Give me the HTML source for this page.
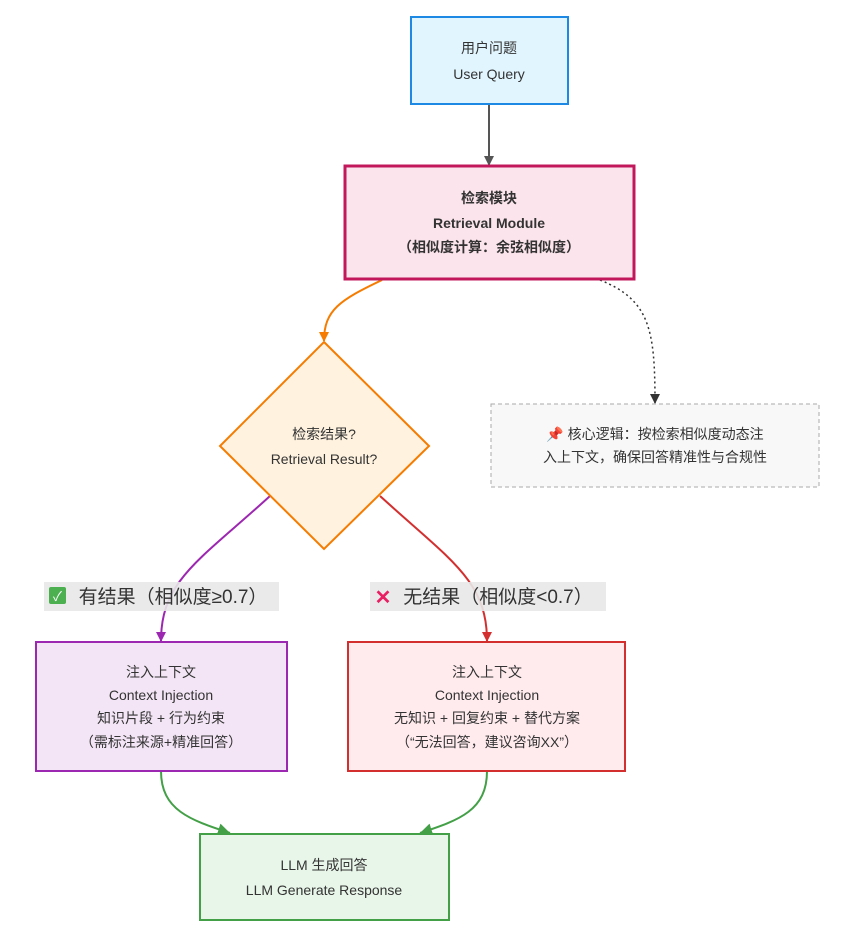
<!DOCTYPE html>
<html><head><meta charset="utf-8"><style>
body{margin:0;background:#fff}
svg text{font-family:"Liberation Sans","Noto Sans CJK SC",sans-serif;fill:#333;text-anchor:middle}
</style></head><body>
<svg width="849" height="932" viewBox="0 0 849 932" xmlns="http://www.w3.org/2000/svg">
<defs>
<marker id="ag" markerWidth="10" markerHeight="10" refX="5" refY="9" markerUnits="userSpaceOnUse" viewBox="0 0 10 10"><path d="M0,0 L10,0 L5,10z" fill="#555"/></marker>
<marker id="ao" markerWidth="10" markerHeight="10" refX="5" refY="9" markerUnits="userSpaceOnUse" viewBox="0 0 10 10"><path d="M0,0 L10,0 L5,10z" fill="#f57c00"/></marker>
<marker id="ap" markerWidth="10" markerHeight="10" refX="5" refY="9" markerUnits="userSpaceOnUse" viewBox="0 0 10 10"><path d="M0,0 L10,0 L5,10z" fill="#9c27b0"/></marker>
<marker id="ar" markerWidth="10" markerHeight="10" refX="5" refY="9" markerUnits="userSpaceOnUse" viewBox="0 0 10 10"><path d="M0,0 L10,0 L5,10z" fill="#d32f2f"/></marker>
<marker id="ad" markerWidth="10" markerHeight="10" refX="5" refY="9" markerUnits="userSpaceOnUse" viewBox="0 0 10 10"><path d="M0,0 L10,0 L5,10z" fill="#333"/></marker>
<marker id="agr" markerWidth="12" markerHeight="12" refX="10" refY="5" orient="auto" markerUnits="userSpaceOnUse" viewBox="0 0 10 10"><path d="M0,0 L10,5 L0,10z" fill="#43a047"/></marker>
</defs>
<line x1="489" y1="104" x2="489" y2="165" stroke="#555" stroke-width="2" marker-end="url(#ag)"/>
<path d="M382,280 C340,300 324,310 324,341" fill="none" stroke="#f57c00" stroke-width="2" marker-end="url(#ao)"/>
<path d="M600,280 C650,300 655,330 655,403" fill="none" stroke="#333" stroke-width="1.5" stroke-dasharray="2,3" marker-end="url(#ad)"/>
<path d="M270,496 C200,560 161,580 161,641" fill="none" stroke="#9c27b0" stroke-width="2" marker-end="url(#ap)"/>
<path d="M380,496 C450,560 487,580 487,641" fill="none" stroke="#d32f2f" stroke-width="2" marker-end="url(#ar)"/>
<path d="M161,771 C161,810 190,820 230,833" fill="none" stroke="#43a047" stroke-width="2" marker-end="url(#agr)"/>
<path d="M487,771 C487,810 460,820 420,833" fill="none" stroke="#43a047" stroke-width="2" marker-end="url(#agr)"/>
<rect x="411" y="17" width="157" height="87" fill="#e1f5fe" stroke="#1e88e5" stroke-width="2"/>
<text x="489" y="53" font-size="14">用户问题</text>
<text x="489" y="79" font-size="14">User Query</text>
<rect x="345" y="166" width="289" height="113" fill="#fce4ec" stroke="#c2185b" stroke-width="3"/>
<text x="489" y="203" font-size="14" font-weight="bold">检索模块</text>
<text x="489" y="228" font-size="14" font-weight="bold">Retrieval Module</text>
<text x="489" y="252" font-size="14" font-weight="bold">（相似度计算：余弦相似度）</text>
<path d="M324,342 L429,446 L324,549 L220,446z" fill="#fff3e0" stroke="#f57c00" stroke-width="2"/>
<text x="324" y="439" font-size="14">检索结果?</text>
<text x="324" y="464" font-size="14">Retrieval Result?</text>
<rect x="491" y="404" width="328" height="83" fill="#f8f8f8" stroke="#aaa" stroke-width="1" stroke-dasharray="4,3"/>
<text x="655" y="439" font-size="14">📌 核心逻辑：按检索相似度动态注</text>
<text x="655" y="462" font-size="14">入上下文，确保回答精准性与合规性</text>
<rect x="44" y="582" width="235" height="29" fill="#e8e8e8" fill-opacity="0.9"/>
<rect x="49" y="587" width="17" height="17" rx="2" fill="#4caf50"/>
<text x="57.5" y="601" font-size="13" style="fill:#fff">✓</text>
<text x="173" y="603" font-size="19">有结果（相似度≥0.7）</text>
<rect x="370" y="582" width="236" height="29" fill="#e8e8e8" fill-opacity="0.9"/>
<text x="383" y="604" font-size="20" style="fill:#e91e63" font-weight="bold">✕</text>
<text x="498" y="603" font-size="19">无结果（相似度&lt;0.7）</text>
<rect x="36" y="642" width="251" height="129" fill="#f3e5f5" stroke="#9c27b0" stroke-width="2"/>
<text x="161" y="677" font-size="14">注入上下文</text>
<text x="161" y="700" font-size="14">Context Injection</text>
<text x="161" y="723" font-size="14">知识片段 + 行为约束</text>
<text x="161" y="747" font-size="14">（需标注来源+精准回答）</text>
<rect x="348" y="642" width="277" height="129" fill="#ffebee" stroke="#d32f2f" stroke-width="2"/>
<text x="487" y="677" font-size="14">注入上下文</text>
<text x="487" y="700" font-size="14">Context Injection</text>
<text x="487" y="723" font-size="14">无知识 + 回复约束 + 替代方案</text>
<text x="487" y="747" font-size="14">（“无法回答，建议咨询XX”）</text>
<rect x="200" y="834" width="249" height="86" fill="#e8f5e9" stroke="#43a047" stroke-width="2"/>
<text x="324" y="870" font-size="14">LLM 生成回答</text>
<text x="324" y="895" font-size="14">LLM Generate Response</text>
</svg>
</body></html>
